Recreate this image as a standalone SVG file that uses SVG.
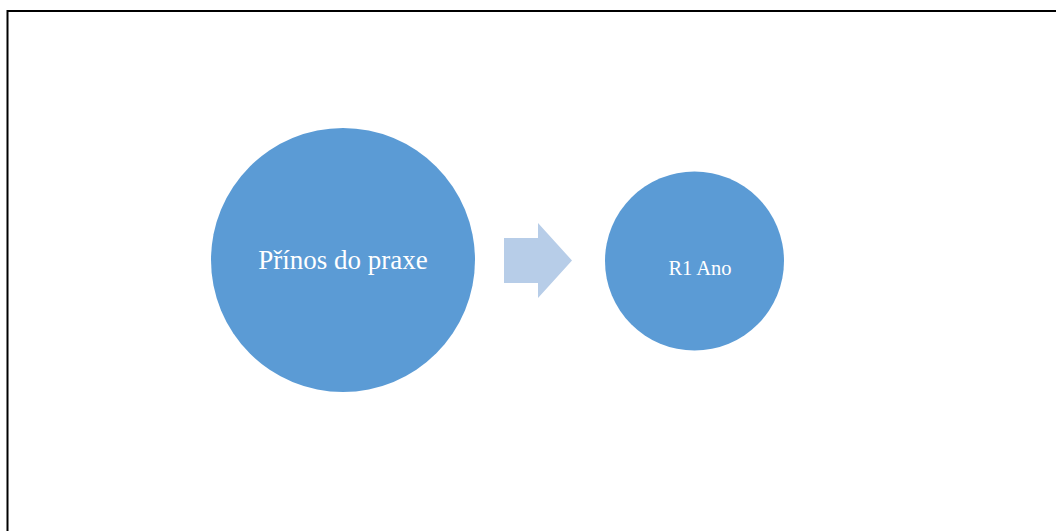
<svg xmlns="http://www.w3.org/2000/svg" width="1056" height="531" viewBox="0 0 1056 531">
  <style>
    .node { fill: #5b9bd5; }
    .label { fill: #ffffff; font-family: "Liberation Serif", "Times New Roman", serif; text-anchor: middle; }
    .frame { stroke: #000000; stroke-width: 2; fill: none; }
  </style>
  <rect width="1056" height="531" fill="#ffffff"/>
  <!-- frame border (open on right and bottom) -->
  <path class="frame" d="M7.5,531 V11 H1056"/>
  <g id="node-prinos">
    <circle class="node" cx="343" cy="260" r="132"/>
    <text class="label" x="343" y="269" font-size="27">Přínos do praxe</text>
  </g>
  <g id="connectors">
    <polygon fill="#b7cde8" points="504,238 538,238 538,223 572,260.5 538,298 538,283 504,283"/>
  </g>
  <g id="node-r1">
    <circle class="node" cx="694.5" cy="261" r="89.5"/>
    <text class="label" x="700" y="275" font-size="20.5">R1 Ano</text>
  </g>
</svg>
